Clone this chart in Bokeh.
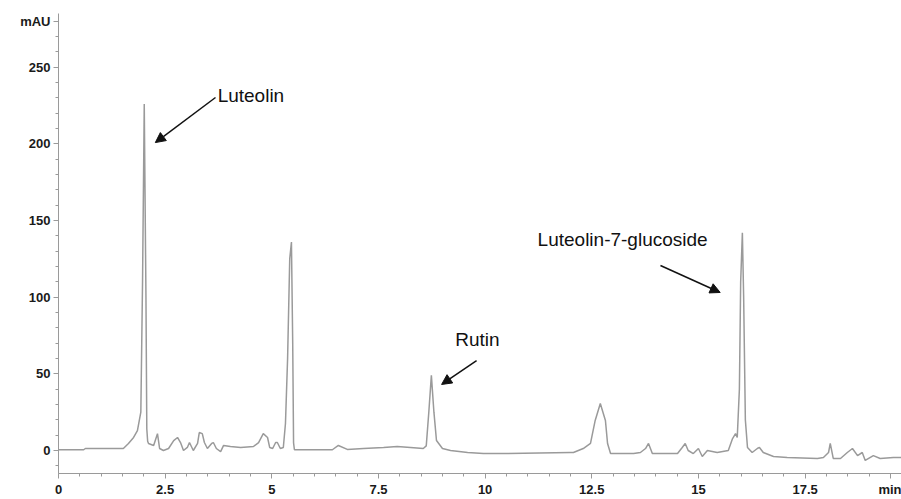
from bokeh.plotting import figure
from bokeh.models import Range1d, FixedTicker, Arrow, NormalHead, ColumnDataSource
from bokeh.core.properties import value
from bokeh.embed import file_html
from bokeh.resources import INLINE

# ---------------- data ----------------
time_min = [
    0.00, 0.59, 0.63, 1.52, 1.64, 1.76, 1.85, 1.93, 1.97, 2.01, 2.05, 2.07, 2.09,
    2.11, 2.23, 2.32, 2.37, 2.46, 2.58, 2.70, 2.79, 2.86, 2.93, 3.02, 3.07, 3.16, 3.26,
    3.30, 3.37, 3.42, 3.49, 3.59, 3.63, 3.70, 3.80, 3.87, 4.03, 4.27, 4.57, 4.69, 4.80,
    4.90, 4.95, 5.02, 5.09, 5.13, 5.20, 5.27, 5.32, 5.37, 5.42, 5.46, 5.49, 5.51, 5.53,
    6.42, 6.56, 6.77, 7.15, 7.62, 7.94, 8.25, 8.55, 8.62, 8.68, 8.74, 8.80, 8.86, 9.00,
    9.19, 9.59, 9.96, 10.36, 12.00, 12.07, 12.30, 12.47, 12.58, 12.70, 12.82, 12.87,
    12.94, 13.48, 13.64, 13.76, 13.83, 13.92, 14.27, 14.51, 14.62, 14.69, 14.76, 14.88,
    15.00, 15.09, 15.21, 15.44, 15.70, 15.80, 15.87, 15.91, 15.96, 15.99, 16.03, 16.06,
    16.10, 16.15, 16.26, 16.38, 16.43, 16.52, 16.76, 17.08, 17.79, 17.93, 18.05, 18.09,
    18.16, 18.33, 18.49, 18.61, 18.73, 18.84, 18.91, 19.10, 19.26, 19.57, 19.76,
]
absorbance_mau = [
    0.5, 0.5, 1.3, 1.3, 4.6, 8.5, 13.0, 25, 110, 226, 100, 14, 6,
    4.6, 3.3, 11, 1.3, 0, 1.3, 6.5, 8.5, 5.2, 0, 2.0, 5.2, 0, 4.6,
    11.7, 11, 5.2, 1.3, 4.6, 5.2, 1.3, -0.7, 3.3, 2.6, 2.0, 2.6, 5.2, 11,
    8.5, 2.0, 1.3, 5.2, 5.2, 1.3, 2.0, 17.6, 60, 125, 136, 70, 5, 0.5,
    0.5, 3.3, 0.7, 1.3, 2.0, 2.6, 2.0, 1.3, 3, 25, 49, 25, 6.5, 1.3,
    0, -1.3, -2.0, -2.0, -1.3, -1.3, 1.3, 4.6, 19.6, 30.7, 19.6, 4.6,
    -2.0, -2.0, -1.3, 1.3, 4.6, -2.0, -2.0, -2.0, 2.0, 4.6, 0, -2.0,
    1.3, -3.9, 0, -1.3, 0, 7.8, 11, 8.5, 40, 110, 142, 100,
    20, 2.0, -1.3, 1.3, 2.0, -1.3, -3.9, -4.6, -5.2, -4.6, -1.3, 4.6,
    -5.2, -5.2, -1.3, 1.3, -3.3, -1.3, -6.5, -3.3, -5.2, -4.6, -4.6,
]

peak_names = ["Luteolin", "Rutin", "Luteolin-7-glucoside"]

x_ticks = [0, 2.5, 5, 7.5, 10, 12.5, 15, 17.5, 19.5]
x_tick_labels = ["0", "2.5", "5", "7.5", "10", "12.5", "15", "17.5", "min"]
y_ticks = [0, 50, 100, 150, 200, 250, 280]
y_tick_labels = ["0", "50", "100", "150", "200", "250", "mAU"]

# ---------------- annotation layout (data coordinates) ----------------
label_x = [3.73, 9.30, 11.23]
label_y = [231.6, 72.4, 137.6]
arrow_x0 = [3.68, 9.80, 14.11]
arrow_y0 = [230.3, 58.7, 120.7]
arrow_x1 = [2.27, 8.98, 15.51]
arrow_y1 = [200.9, 43.1, 103.1]

# ---------------- figure ----------------
p = figure(width=901, height=499, output_backend="svg", toolbar_location=None,
           x_range=Range1d(0, 19.76), y_range=Range1d(-15.0, 285.1),
           min_border_left=58, min_border_right=0, min_border_top=13, min_border_bottom=26)
p.background_fill_color = "white"
p.border_fill_color = "white"
p.outline_line_color = None
p.xgrid.visible = False
p.ygrid.visible = False

axis_col = "#9a9a9a"
tick_font = "Liberation Sans"

xa = p.xaxis[0]
xa.ticker = FixedTicker(ticks=x_ticks, minor_ticks=[i * 0.5 for i in range(0, 40)])
xa.major_label_overrides = dict(zip(x_ticks, x_tick_labels))
ya = p.yaxis[0]
ya.ticker = FixedTicker(ticks=y_ticks, minor_ticks=[i * 10 for i in range(-1, 29)])
ya.major_label_overrides = dict(zip(y_ticks, y_tick_labels))

for ax in (xa, ya):
    ax.axis_line_color = axis_col
    ax.major_tick_line_color = axis_col
    ax.minor_tick_line_color = axis_col
    ax.major_tick_in = 0
    ax.major_tick_out = 5
    ax.minor_tick_in = 0
    ax.minor_tick_out = 3
    ax.major_label_text_font = tick_font
    ax.major_label_text_font_size = "13px"
    ax.major_label_text_font_style = "bold"
    ax.major_label_text_color = "#1a1a1a"
    ax.major_label_standoff = 3

# chromatogram trace
p.line(time_min, absorbance_mau, line_color="#9a9a9a", line_width=1.5)

# peak labels and arrows
src = ColumnDataSource(dict(x=label_x, y=label_y, name=peak_names,
                            x0=arrow_x0, y0=arrow_y0, x1=arrow_x1, y1=arrow_y1))
p.text(x="x", y="y", text="name", source=src, text_font=value("Liberation Sans"),
       text_font_size="19px", text_color="#111111", text_align="left", text_baseline="middle")
p.add_layout(Arrow(source=src, x_start="x0", y_start="y0", x_end="x1", y_end="y1",
                   line_color="#111111", line_width=1.5,
                   end=NormalHead(size=10, fill_color="#111111", line_color="#111111")))

open("out.html", "w").write(file_html(p, INLINE))
